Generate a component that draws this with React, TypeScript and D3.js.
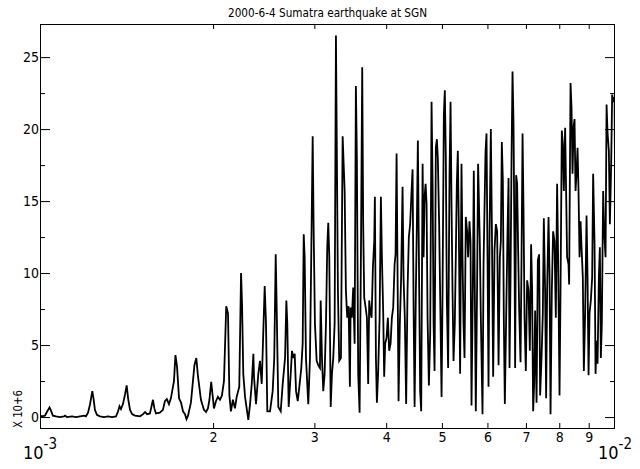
import { useEffect, useRef } from "react";
import * as d3 from "d3";

// spectrum: [frequency in mHz, amplitude in units of 10^6]
const lowBand: [number, number][] = [
  [1.0, 0.1], [1.008, 0.05], [1.02, 0.1], [1.028, 0.35], [1.039, 0.67], [1.045, 0.45], [1.053, 0.1],
  [1.066, 0.05], [1.083, 0.0], [1.101, 0.05], [1.105, 0.1], [1.114, 0.0], [1.137, 0.05], [1.155, 0.0],
  [1.174, 0.05], [1.193, 0.1], [1.202, 0.05], [1.212, 0.3], [1.222, 0.9], [1.233, 1.8], [1.239, 1.3],
  [1.246, 0.5], [1.256, 0.15], [1.271, 0.05], [1.292, 0.0], [1.313, 0.05], [1.334, 0.0], [1.356, 0.05],
  [1.367, 0.4], [1.375, 0.75], [1.383, 0.55], [1.394, 0.9], [1.406, 1.6], [1.415, 2.2], [1.423, 1.3],
  [1.434, 0.5], [1.446, 0.2], [1.463, 0.1], [1.493, 0.05], [1.511, 0.2], [1.523, 0.35], [1.535, 0.2],
  [1.553, 0.25], [1.572, 1.2], [1.581, 0.6], [1.591, 0.25], [1.616, 0.3], [1.636, 0.5], [1.649, 1.1],
  [1.662, 1.25], [1.676, 0.9], [1.689, 1.3], [1.71, 2.5], [1.72, 4.3], [1.731, 3.5], [1.745, 1.3],
  [1.759, 1.0], [1.773, 0.4], [1.787, 0.2], [1.798, -0.15], [1.809, 0.1], [1.83, 1.0], [1.845, 2.5],
  [1.856, 3.6], [1.87, 4.1], [1.883, 2.8], [1.905, 1.2], [1.928, 0.5], [1.944, 0.35], [1.959, 0.6],
  [1.971, 1.2], [1.985, 2.45], [1.995, 1.6], [2.007, 0.6], [2.023, 1.1], [2.039, 1.4], [2.056, 1.2],
  [2.072, 1.5], [2.089, 2.5], [2.108, 7.7], [2.123, 7.2], [2.135, 1.5], [2.148, 0.4], [2.165, 1.2],
  [2.183, 0.6], [2.198, 1.4],
];

const midBand: [number, number][] = [
  [2.221, 2.1], [2.237, 10.0], [2.246, 7.8], [2.257, 3.0], [2.273, 1.4], [2.303, -0.2], [2.319, 0.9],
  [2.335, 2.3], [2.35, 4.4], [2.356, 2.8], [2.375, 0.9], [2.397, 3.0], [2.413, 3.9], [2.43, 2.3],
  [2.445, 5.8], [2.459, 9.1], [2.472, 6.5], [2.485, 0.4], [2.512, 0.4], [2.539, 1.8], [2.555, 4.1],
  [2.57, 11.3], [2.58, 7.6], [2.597, 0.7], [2.622, 0.4], [2.643, 2.3], [2.668, 4.1], [2.682, 8.1],
  [2.692, 6.5], [2.707, 0.7], [2.729, 3.0], [2.743, 4.6], [2.758, 4.1], [2.773, 4.4], [2.788, 1.8],
  [2.807, 1.1], [2.825, 2.1], [2.847, 3.4], [2.863, 5.1], [2.875, 12.7], [2.886, 11.1], [2.901, 4.1],
  [2.928, 0.9], [2.948, 4.1], [2.963, 11.1], [2.98, 19.5], [2.992, 12.9], [3.007, 6.5], [3.028, 3.9],
  [3.047, 3.6], [3.068, 3.4], [3.077, 8.1], [3.093, 4.1], [3.109, 1.8], [3.126, 3.0], [3.143, 6.5],
  [3.159, 11.8], [3.172, 13.5], [3.185, 11.1], [3.203, 0.7], [3.219, 3.0], [3.236, 4.1], [3.254, 6.5],
  [3.271, 26.5], [3.284, 17.6], [3.297, 8.8], [3.314, 3.9], [3.337, 4.1], [3.36, 19.5], [3.387, 15.7],
  [3.404, 8.8], [3.422, 6.9], [3.441, 7.7], [3.459, 2.1], [3.469, 7.6], [3.487, 6.9], [3.505, 9.0],
  [3.525, 5.1], [3.543, 23.0], [3.557, 18.0], [3.576, 3.0], [3.596, 0.3],
];

const highBandA: [number, number][] = [
  [3.615, 11.1], [3.634, 24.3], [3.648, 13.4], [3.663, 8.3], [3.684, 7.6], [3.703, 6.9], [3.722, 2.3],
  [3.737, 8.1], [3.758, 7.2], [3.773, 6.9], [3.793, 10.4], [3.813, 12.2], [3.823, 15.3], [3.839, 4.1],
  [3.854, 1.0], [3.874, 3.2], [3.896, 6.9], [3.916, 15.3], [3.932, 11.1], [3.952, 7.4], [3.968, 2.8],
  [3.984, 5.1], [4.006, 5.5], [4.027, 6.9], [4.048, 4.6], [4.071, 5.1], [4.092, 6.9], [4.114, 7.6],
  [4.137, 10.6], [4.153, 11.3], [4.17, 18.3], [4.187, 9.7], [4.203, 1.1], [4.225, 6.5], [4.247, 9.7],
  [4.271, 16.0], [4.288, 9.7], [4.31, 6.9], [4.333, 0.9], [4.357, 8.8], [4.38, 12.5], [4.403, 13.4],
  [4.428, 15.7], [4.446, 17.2], [4.464, 7.6], [4.482, 0.7], [4.505, 8.8], [4.523, 13.4], [4.541, 19.2],
  [4.56, 11.1], [4.583, 1.8], [4.602, 0.4], [4.628, 17.6], [4.646, 11.1], [4.665, 15.3], [4.684, 16.2],
  [4.702, 14.8], [4.721, 6.9], [4.746, 2.2], [4.771, 5.8], [4.797, 21.9], [4.817, 16.2], [4.836, 6.5],
  [4.855, 3.2], [4.88, 18.7], [4.9, 19.3], [4.919, 18.0], [4.945, 13.4], [4.973, 6.5], [4.993, 1.4],
  [5.013, 8.8], [5.039, 21.0], [5.059, 22.7], [5.079, 18.0], [5.1, 8.1], [5.126, 3.4], [5.155, 16.9],
  [5.176, 21.9], [5.196, 14.8], [5.217, 8.8], [5.238, 3.9], [5.265, 6.5], [5.286, 11.1], [5.308, 16.2],
  [5.329, 18.5], [5.35, 13.4], [5.378, 3.0], [5.408, 17.6], [5.43, 11.1], [5.452, 6.5], [5.474, 4.1],
  [5.502, 13.9], [5.531, 12.9], [5.553, 11.1], [5.584, 13.6], [5.607, 12.2], [5.629, 0.8], [5.659, 8.8],
  [5.681, 17.1], [5.704, 8.8], [5.727, 0.4], [5.757, 9.2], [5.78, 17.6], [5.82, 12.0], [5.843, 7.0],
  [5.883, 0.2], [5.907, 10.6],
];

const highBandB: [number, number][] = [
  [5.954, 18.4], [5.978, 19.7], [6.002, 11.1], [6.026, 2.1], [6.051, 12.7], [6.082, 20.0], [6.107, 13.4],
  [6.139, 2.8], [6.173, 11.6], [6.206, 13.4], [6.238, 12.9], [6.273, 3.6], [6.306, 11.1], [6.331, 12.2],
  [6.356, 19.1], [6.382, 16.4], [6.408, 6.5], [6.433, 0.9], [6.467, 6.9], [6.503, 12.9], [6.529, 16.6],
  [6.555, 3.4], [6.581, 9.5], [6.608, 18.0], [6.634, 24.0], [6.661, 20.3], [6.688, 11.1], [6.704, 3.4],
  [6.731, 16.8], [6.758, 16.2], [6.785, 11.6], [6.812, 7.6], [6.85, 3.8], [6.878, 11.1], [6.906, 19.7],
  [6.933, 14.3], [6.961, 6.9], [6.997, 3.2], [7.034, 9.5], [7.073, 8.8], [7.11, 4.6], [7.147, 12.0],
  [7.176, 8.8], [7.205, 0.4], [7.234, 2.3], [7.263, 7.4], [7.304, 1.0], [7.342, 10.9], [7.38, 11.3],
  [7.41, 1.5], [7.451, 4.1], [7.49, 7.2], [7.52, 13.8], [7.559, 8.8], [7.59, 1.3], [7.62, 8.8],
  [7.663, 13.9], [7.694, 9.9], [7.725, 0.2], [7.765, 8.8], [7.805, 12.9], [7.849, 12.2], [7.89, 6.9],
  [7.931, 16.2], [7.963, 11.1], [8.008, 1.5], [8.04, 8.8], [8.082, 19.9], [8.114, 19.0], [8.147, 15.7],
  [8.19, 20.1], [8.222, 15.7], [8.255, 11.1], [8.302, 10.6], [8.322, 9.2], [8.369, 23.2], [8.402, 21.5],
  [8.436, 16.9], [8.47, 20.1], [8.504, 20.7], [8.538, 15.7], [8.572, 16.9], [8.607, 18.7], [8.641, 15.7],
  [8.676, 11.1], [8.711, 13.6], [8.746, 11.8], [8.791, 9.7], [8.827, 3.2], [8.873, 7.2], [8.923, 14.0],
  [8.959, 9.7], [8.995, 2.9], [9.031, 7.2], [9.078, 8.1], [9.126, 9.7], [9.162, 16.9], [9.214, 12.0],
  [9.251, 3.0], [9.288, 5.3], [9.325, 3.7], [9.374, 9.7], [9.412, 11.8], [9.449, 4.1], [9.487, 6.5],
  [9.537, 15.7], [9.575, 12.9], [9.629, 11.1], [9.668, 21.7], [9.707, 19.7], [9.757, 18.5], [9.797, 13.4],
  [9.848, 17.6], [9.887, 22.4], [9.927, 22.0], [9.983, 22.2], [10.0, 17.0],
];

const yMajorTicks = [0, 5, 10, 15, 20, 25];
const yMinorTicks = [2.5, 7.5, 12.5, 17.5, 22.5];
const xMinorTicks = [2, 3, 4, 5, 6, 7, 8, 9]; // mHz
const xDecades = [
  { value: 1e-3, base: "10", exp: "-3" },
  { value: 1e-2, base: "10", exp: "-2" },
];
const titleText = "2000-6-4 Sumatra earthquake at SGN";
const yUnitLabel = "X 10+6";

const FONT = "'Liberation Sans Narrow', 'DejaVu Sans Condensed', 'Liberation Sans', sans-serif";

export default function App() {
  const ref = useRef<SVGSVGElement>(null);

  useEffect(() => {
    if (!ref.current) return;
    const width = 640,
      height = 469,
      margin = { top: 24, right: 25, bottom: 40, left: 40 };

    const svg = d3.select(ref.current);
    svg.selectAll("*").remove();

    const x = d3
      .scaleLog()
      .domain([1e-3, 1e-2])
      .range([margin.left, width - margin.right]);
    const y = d3
      .scaleLinear()
      .domain([-0.83, 27.3])
      .range([height - margin.bottom, margin.top]);

    // clip the trace to the frame
    svg
      .append("defs")
      .append("clipPath")
      .attr("id", "plotClip")
      .append("rect")
      .attr("x", margin.left)
      .attr("y", margin.top)
      .attr("width", width - margin.left - margin.right)
      .attr("height", height - margin.top - margin.bottom);

    const spectrum = [...lowBand, ...midBand, ...highBandA, ...highBandB];
    const line = d3
      .line<[number, number]>()
      .x((d) => x(d[0] * 1e-3))
      .y((d) => y(d[1]));

    svg
      .append("path")
      .datum(spectrum)
      .attr("clip-path", "url(#plotClip)")
      .attr("fill", "none")
      .attr("stroke", "#000")
      .attr("stroke-width", 1.8)
      .attr("d", line);

    // frame
    svg
      .append("rect")
      .attr("x", margin.left + 0.5)
      .attr("y", margin.top + 0.5)
      .attr("width", width - margin.left - margin.right - 1)
      .attr("height", height - margin.top - margin.bottom - 1)
      .attr("fill", "none")
      .attr("stroke", "#000");

    const styleAxis = (g: any) => {
      g.select(".domain").remove();
      g.selectAll("line").attr("stroke", "#000");
      g.selectAll("text").attr("fill", "#000").attr("font-family", FONT).attr("font-size", 14);
    };

    // y axes (ticks point inward)
    svg
      .append("g")
      .attr("transform", `translate(${margin.left},0)`)
      .call(d3.axisLeft(y).tickValues(yMajorTicks).tickSize(-10).tickPadding(1).tickFormat(d3.format("d")))
      .call(styleAxis);
    svg
      .append("g")
      .attr("transform", `translate(${margin.left},0)`)
      .call(d3.axisLeft(y).tickValues(yMinorTicks).tickSize(-5).tickFormat(() => ""))
      .call(styleAxis);
    svg
      .append("g")
      .attr("transform", `translate(${width - margin.right},0)`)
      .call(d3.axisRight(y).tickValues(yMajorTicks).tickSize(-10).tickFormat(() => ""))
      .call(styleAxis);
    svg
      .append("g")
      .attr("transform", `translate(${width - margin.right},0)`)
      .call(d3.axisRight(y).tickValues(yMinorTicks).tickSize(-5).tickFormat(() => ""))
      .call(styleAxis);

    // x axes
    svg
      .append("g")
      .attr("transform", `translate(0,${height - margin.bottom})`)
      .call(
        d3
          .axisBottom(x)
          .tickValues(xMinorTicks.map((v) => v * 1e-3))
          .tickSize(-6)
          .tickPadding(3)
          .tickFormat((d) => String(Math.round(+d * 1000)))
      )
      .call(styleAxis);
    svg
      .append("g")
      .attr("transform", `translate(0,${margin.top})`)
      .call(
        d3
          .axisTop(x)
          .tickValues(xMinorTicks.map((v) => v * 1e-3))
          .tickSize(-5)
          .tickFormat(() => "")
      )
      .call(styleAxis);

    // decade labels 10^-3, 10^-2
    const dec = svg
      .selectAll(".decade")
      .data(xDecades)
      .enter()
      .append("text")
      .attr("class", "decade")
      .attr("x", (d) => x(d.value))
      .attr("y", 459)
      .attr("text-anchor", "middle")
      .attr("font-family", FONT)
      .attr("font-size", 18);
    dec.append("tspan").text((d) => d.base);
    dec
      .append("tspan")
      .attr("dy", -10)
      .attr("font-size", 15)
      .text((d) => d.exp);

    // title
    svg
      .append("text")
      .attr("x", (margin.left + width - margin.right) / 2)
      .attr("y", 17)
      .attr("text-anchor", "middle")
      .attr("font-family", FONT)
      .attr("font-size", 12)
      .attr("textLength", 199)
      .attr("lengthAdjust", "spacingAndGlyphs")
      .text(titleText);

    // unit label
    svg
      .append("text")
      .attr("transform", "translate(22,409) rotate(-90)")
      .attr("text-anchor", "middle")
      .attr("font-family", FONT)
      .attr("font-size", 13)
      .attr("textLength", 38)
      .attr("lengthAdjust", "spacingAndGlyphs")
      .text(yUnitLabel);
  }, []);

  return (
    <svg
      ref={ref}
      width={640}
      height={469}
      style={{ position: "absolute", left: 0, top: 0, background: "#fff" }}
    />
  );
}
